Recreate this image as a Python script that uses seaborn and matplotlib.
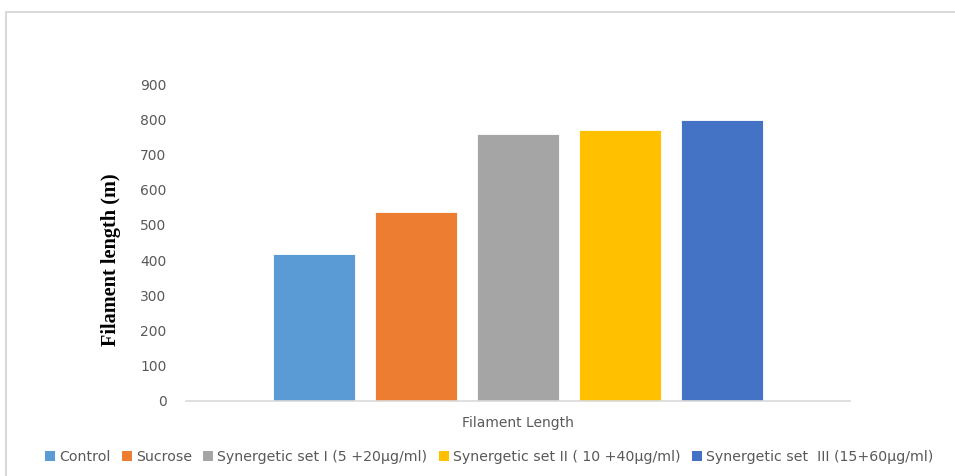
import matplotlib
matplotlib.use('Agg')
import matplotlib.pyplot as plt
from matplotlib.patches import Patch, Rectangle
import numpy as np
import pandas as pd
import seaborn as sns

# data
categories = ['Control', 'Sucrose', 'Synergetic set I (5 +20µg/ml)',
              'Synergetic set II ( 10 +40µg/ml)', 'Synergetic set  III (15+60µg/ml)']
lengths = [416, 537, 757, 768, 799]
colors = ['#5b9bd5', '#ed7d31', '#a5a5a5', '#ffc000', '#4472c4']
yticks = [0, 100, 200, 300, 400, 500, 600, 700, 800, 900]

df = pd.DataFrame({'group': categories, 'pos': np.arange(len(categories)), 'length': lengths})

sns.set_style('white')
plt.rcParams['font.family'] = ['DejaVu Sans']

fig = plt.figure(figsize=(9.55, 4.76), dpi=100, facecolor='white')
ax = fig.add_axes([186/955, 1-401/476, 664/955, (401-84)/476])

sns.barplot(data=df, x='pos', y='length', hue='group', palette=colors,
            native_scale=True, width=0.8, dodge=False, legend=False, ax=ax,
            saturation=1, edgecolor='white', linewidth=0.6)

ax.set_xlim(-1.255, 5.255)
ax.set_ylim(0, 900)
ax.set_yticks(yticks)
ax.set_yticklabels([str(t) for t in yticks], color='#595959', fontsize=10)
ax.set_xticks([])
ax.tick_params(axis='y', length=0, pad=14)

for s in ['top', 'right', 'left']:
    ax.spines[s].set_visible(False)
ax.spines['bottom'].set_color('#d9d9d9')
ax.spines['bottom'].set_linewidth(1.2)

ax.set_xlabel('Filament Length', color='#595959', fontsize=10, labelpad=11)
ax.set_ylabel('Filament length (m)', family='Liberation Serif', fontweight='bold',
              fontsize=14.6, color='black')
ax.yaxis.set_label_coords(-0.098, 0.445)

handles = [Patch(facecolor=c, edgecolor='none') for c in colors]
fig.legend(handles, categories, loc='center', bbox_to_anchor=(489/955, 1-457/476),
           ncol=5, frameon=False, fontsize=10.2, handlelength=0.7, handleheight=0.7,
           handletextpad=0.3, columnspacing=0.8, labelcolor='#595959')

# light grey chart frame
fig.patches.append(Rectangle((6/955, -0.1), 1.2, 1-12/476+0.1, transform=fig.transFigure,
                             fill=False, edgecolor='#d9d9d9', linewidth=1.5))

plt.savefig('out.png', dpi=100, facecolor='white')
